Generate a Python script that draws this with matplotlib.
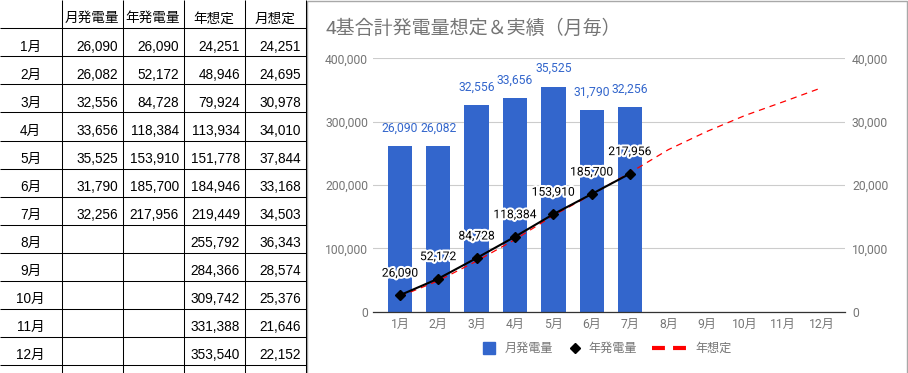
import matplotlib
matplotlib.use("Agg")
import matplotlib.pyplot as plt
import matplotlib.patheffects as pe
from matplotlib.lines import Line2D
from matplotlib.patches import Rectangle
from matplotlib.legend_handler import HandlerBase

# ---------------- data ----------------
months = ["1月", "2月", "3月", "4月", "5月", "6月", "7月", "8月", "9月", "10月", "11月", "12月"]
monthly_actual = [26090, 26082, 32556, 33656, 35525, 31790, 32256]
cumulative_actual = [26090, 52172, 84728, 118384, 153910, 185700, 217956]
forecast_cumulative = [24251, 48946, 79924, 113934, 151778, 184946, 219449,
                       255792, 284366, 309742, 331388, 353540]
forecast_monthly = [24251, 24695, 30978, 34010, 37844, 33168, 34503,
                    36343, 28574, 25376, 21646, 22152]
table_headers = ["", "月発電量", "年発電量", "年想定", "月想定"]
title_text = "4基合計発電量想定＆実績（月毎）"
legend_labels = ["月発電量", "年発電量", "年想定"]

# ---------------- styling ----------------
W, H = 908, 373
DPI = 100
PT = 72.0 / DPI  # points per pixel
CHART_FONT = ["Roboto", "Noto Sans CJK JP", "DejaVu Sans"]
TABLE_FONT = ["Liberation Sans", "Noto Sans CJK JP", "DejaVu Sans"]
GRAY = "#757575"
BLUE = "#3366cc"
RED = "#ff0000"
FS = 8.7  # ~12px
TFS = 9.8

plt.rcParams["font.family"] = CHART_FONT

fig = plt.figure(figsize=(W / DPI, H / DPI), dpi=DPI)
fig.patch.set_facecolor("white")

# ---------------- table (pixel coordinate overlay) ----------------
axt = fig.add_axes([0, 0, 1, 1])
axt.set_xlim(0, W)
axt.set_ylim(H, 0)
axt.axis("off")

col_edges = [0, 61.5, 122.5, 183.5, 244.5, 305.5]
row0 = 28.3
rh = 28.06
lw_px = 0.75
for xe in col_edges[1:]:
    axt.plot([xe, xe], [0, H], color="black", lw=lw_px, solid_capstyle="butt")
for k in range(len(months) + 1):
    yk = row0 + rh * k
    axt.plot([0, col_edges[-1]], [yk, yk], color="black", lw=lw_px, solid_capstyle="butt")

# chart border
axt.add_patch(Rectangle((307, 0.5), 600, H, fill=False, ec="#a8a8a8", lw=1.0))

for i, h in enumerate(table_headers):
    if h:
        cx = (col_edges[i] + col_edges[i + 1]) / 2
        axt.text(cx, 18.3, h, ha="center", va="center", fontsize=TFS,
                 family=TABLE_FONT, color="black")

def fmt(v):
    return "{:,}".format(v)

for r, m in enumerate(months):
    cy = row0 + rh * r + rh / 2 + 4.2
    axt.text((col_edges[0] + col_edges[1]) / 2, cy, m, ha="center", va="center",
             fontsize=TFS, family=TABLE_FONT, color="black")
    cols = [
        monthly_actual[r] if r < len(monthly_actual) else None,
        cumulative_actual[r] if r < len(cumulative_actual) else None,
        forecast_cumulative[r],
        forecast_monthly[r],
    ]
    for j, v in enumerate(cols):
        if v is None:
            continue
        axt.text(col_edges[j + 2] - 4.4, cy, fmt(v), ha="right", va="center",
                 fontsize=TFS, family=TABLE_FONT, color="black")

# ---------------- chart ----------------
left, right, top, bottom = 373, 845, 58.3, 311.7
ax = fig.add_axes([left / W, (H - bottom) / H, (right - left) / W, (bottom - top) / H])
x = list(range(len(months)))

ax.bar(x[:len(monthly_actual)], monthly_actual, width=0.635, color=BLUE, zorder=2)
ax.set_ylim(0, 40000)
ax.set_xlim(-0.704, 11.608)
ax.set_yticks([0, 10000, 20000, 30000, 40000])
ax.set_yticklabels([fmt(v) for v in [0, 10000, 20000, 30000, 40000]])
ax.set_axisbelow(True)
ax.grid(axis="y", color="#cccccc", lw=0.8)
for s in ["top", "left", "right"]:
    ax.spines[s].set_visible(False)
ax.spines["bottom"].set_color("#333333")
ax.spines["bottom"].set_linewidth(0.9)
ax.set_xticks(x)
ax.set_xticklabels(months)
ax.tick_params(axis="x", length=0, pad=4.5, colors=GRAY, labelsize=FS)

for xi, v in zip(x, monthly_actual):
    ax.annotate(fmt(v), (xi, v), xytext=(0, 18), textcoords="offset pixels",
                ha="center", va="center", color=BLUE, fontsize=FS)

ax2 = ax.twinx()
ax.yaxis.tick_right()
ax2.yaxis.tick_left()
ax.tick_params(axis="y", length=0, pad=5.0, colors=GRAY, labelsize=FS)
ax2.set_ylim(0, 400000)
ax2.set_yticks([0, 100000, 200000, 300000, 400000])
ax2.set_yticklabels([fmt(v) for v in [0, 100000, 200000, 300000, 400000]])
ax2.tick_params(axis="y", length=0, pad=3.6, colors=GRAY, labelsize=FS)
for s in ax2.spines.values():
    s.set_visible(False)

ax2.plot(x, forecast_cumulative, color=RED, lw=0.9, dashes=(5, 4), zorder=3)
ax2.plot(x[:len(cumulative_actual)], cumulative_actual, color="black", lw=1.5,
         marker="D", ms=5.0, zorder=4)
for xi, v in zip(x, cumulative_actual):
    ax2.annotate(fmt(v), (xi, v), xytext=(0, 22), textcoords="offset pixels",
                 ha="center", va="center", color="black", fontsize=FS, zorder=5,
                 path_effects=[pe.withStroke(linewidth=3, foreground="white")])

fig.text(326 / W, 1 - 29 / H, title_text, ha="left", va="center",
         fontsize=13.7, color=GRAY)


# ---------------- legend ----------------
class PlacedHandler(HandlerBase):
    """Draws a legend key at given pixel offsets from the start of the handle box."""

    def __init__(self, xs_px, **props):
        super().__init__()
        self.xs_px = xs_px
        self.props = props

    def create_artists(self, legend, orig_handle, xdescent, ydescent, width,
                       height, fontsize, trans):
        y = height / 2 - ydescent
        xs = [xp * PT - xdescent for xp in self.xs_px]
        ln = Line2D(xs, [y] * len(xs), **self.props)
        ln.set_transform(trans)
        return [ln]


h_bar = Line2D([], [], color=BLUE)
h_cum = Line2D([], [], color="black")
h_fc = Line2D([], [], color=RED)
handler_map = {
    h_bar: PlacedHandler([6], ls="none", marker="s", ms=8.6, color=BLUE, mec=BLUE),
    h_cum: PlacedHandler([8], ls="none", marker="D", ms=5.2, color="black"),
    h_fc: PlacedHandler([0, 35], color=RED, lw=3.0, dashes=(3.1, 1.95),
                        solid_capstyle="butt", dash_capstyle="butt"),
}
LEG_Y = 24.7 / H
common = dict(loc="center left", frameon=False, fontsize=FS, labelcolor=GRAY,
              handler_map=handler_map, borderpad=0, borderaxespad=0)
fig.legend([h_bar, h_cum], legend_labels[:2], ncol=2,
           bbox_to_anchor=(483 / W, LEG_Y),
           handlelength=20 * PT / FS, handletextpad=2 * PT / FS,
           columnspacing=13 * PT / FS, **common)
fig.legend([h_fc], legend_labels[2:], ncol=1,
           bbox_to_anchor=(652 / W, LEG_Y),
           handlelength=35 * PT / FS, handletextpad=8 * PT / FS, **common)

fig.savefig("out.png", dpi=DPI, facecolor="white")
